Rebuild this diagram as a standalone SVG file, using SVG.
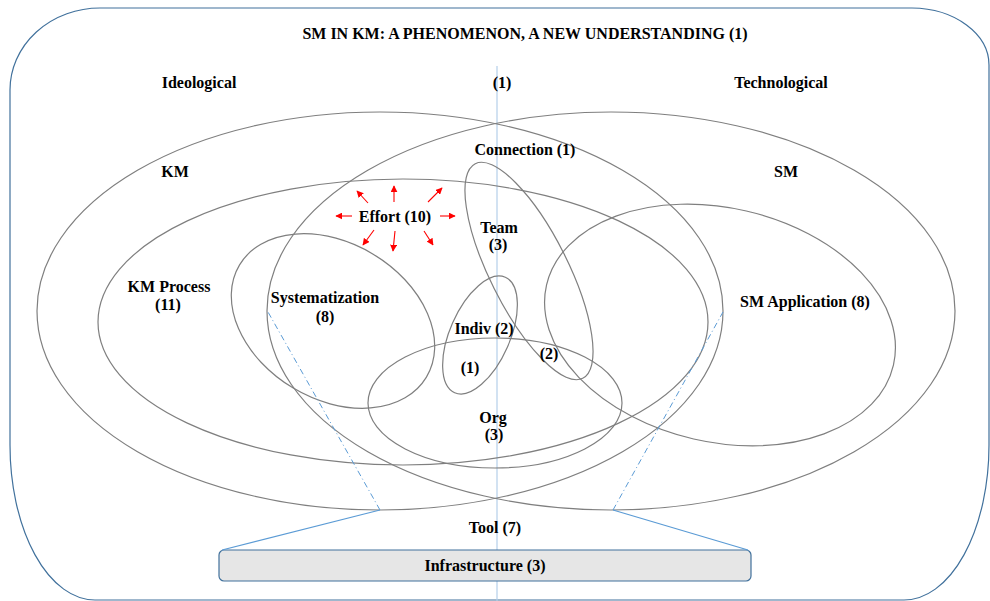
<svg xmlns="http://www.w3.org/2000/svg" width="990" height="601" viewBox="0 0 990 601">
<defs>
<marker id="ah" viewBox="0 0 10 10" refX="9" refY="5" markerWidth="7" markerHeight="7" markerUnits="userSpaceOnUse" orient="auto">
<path d="M0,0 L10,5 L0,10 z" fill="#ff0000"/>
</marker>
<style>
.t{font-family:"Liberation Serif","Times New Roman",serif;font-weight:bold;font-size:16px;fill:#000;text-anchor:middle}
.e{fill:none;stroke:#7f7f7f;stroke-width:1.2}
.red{stroke:#ff0000;stroke-width:1.1;fill:none;marker-end:url(#ah)}
.bl{stroke:#5b9bd5;stroke-width:1.2;fill:none}
.dd{stroke:#5b9bd5;stroke-width:1;fill:none;stroke-dasharray:6 3 1 3}
</style>
</defs>
<rect width="990" height="601" fill="#ffffff"/>
<g id="frame">
<path d="M10,90 A90,82 0 0 1 100,8 L912,8 A78,57 0 0 1 989,65 L989,445 A85,155 0 0 1 904,600 L95,600 A85,155 0 0 1 10,445 Z" fill="none" stroke="#41719c" stroke-width="1.2"/>
<text class="t" x="525" y="39">SM IN KM: A PHENOMENON, A NEW UNDERSTANDING (1)</text>
</g>
<g id="axis">
<line x1="497" y1="66" x2="497" y2="601" stroke="#b4cfea" stroke-width="1.2"/>
<text class="t" x="502" y="88">(1)</text>
</g>
<g id="ideological"><text class="t" x="199" y="88">Ideological</text></g>
<g id="technological"><text class="t" x="781" y="88">Technological</text></g>
<g id="km">
<ellipse class="e" cx="380" cy="311" rx="343" ry="199"/>
<text class="t" x="175" y="177">KM</text>
</g>
<g id="sm">
<ellipse class="e" cx="611" cy="311" rx="344" ry="199"/>
<text class="t" x="786" y="177">SM</text>
</g>
<g id="connection"><text class="t" x="525" y="155">Connection (1)</text></g>
<g id="km-process">
<ellipse class="e" cx="403" cy="322" rx="305" ry="143"/>
<text class="t" x="169" y="292">KM Process</text>
<text class="t" x="168" y="310">(11)</text>
</g>
<g id="sm-application">
<ellipse class="e" cx="720" cy="325" rx="178" ry="117" transform="rotate(13 720 325)"/>
<text class="t" x="805" y="307">SM Application (8)</text>
</g>
<g id="systematization">
<ellipse class="e" cx="333" cy="321" rx="109" ry="78" transform="rotate(31 333 321)"/>
<text class="t" x="325" y="303">Systematization</text>
<text class="t" x="325" y="322">(8)</text>
</g>
<g id="team">
<ellipse class="e" cx="529" cy="271" rx="120" ry="39" transform="rotate(63.4 529 271)"/>
<text class="t" x="499" y="233">Team</text>
<text class="t" x="498" y="250">(3)</text>
</g>
<g id="indiv">
<ellipse class="e" cx="480" cy="335" rx="63" ry="30" transform="rotate(-66.3 480 335)"/>
<text class="t" x="484" y="334">Indiv (2)</text>
<text class="t" x="470" y="373">(1)</text>
</g>
<g id="team-org"><text class="t" x="549" y="359">(2)</text></g>
<g id="org">
<ellipse class="e" cx="495" cy="403" rx="127" ry="65"/>
<text class="t" x="493" y="423">Org</text>
<text class="t" x="494" y="440">(3)</text>
</g>
<g id="effort">
<text class="t" x="395" y="222">Effort (10)</text>
</g>
<g id="tool"><text class="t" x="495" y="533">Tool (7)</text></g>
<g id="infrastructure">
<rect x="219" y="550" width="532" height="31" rx="5" fill="#e6e6e6" stroke="#41719c" stroke-width="1.2"/>
<text class="t" x="485" y="571">Infrastructure (3)</text>
</g>
<g id="connectors">
<line class="red" x1="368" y1="203" x2="357" y2="191"/>
<line class="red" x1="394" y1="202" x2="394" y2="186"/>
<line class="red" x1="428" y1="202" x2="442" y2="188"/>
<line class="red" x1="352" y1="216" x2="336" y2="216"/>
<line class="red" x1="440" y1="216" x2="455" y2="216"/>
<line class="red" x1="374" y1="230" x2="363" y2="245"/>
<line class="red" x1="395" y1="231" x2="393" y2="251"/>
<line class="red" x1="424" y1="231" x2="433" y2="245"/>
<line class="bl" x1="380" y1="510" x2="222" y2="550"/>
<line class="bl" x1="613" y1="510" x2="748" y2="550"/>
<line class="dd" x1="380" y1="510" x2="268" y2="312"/>
<line class="dd" x1="613" y1="510" x2="723" y2="312"/>
</g>
</svg>
